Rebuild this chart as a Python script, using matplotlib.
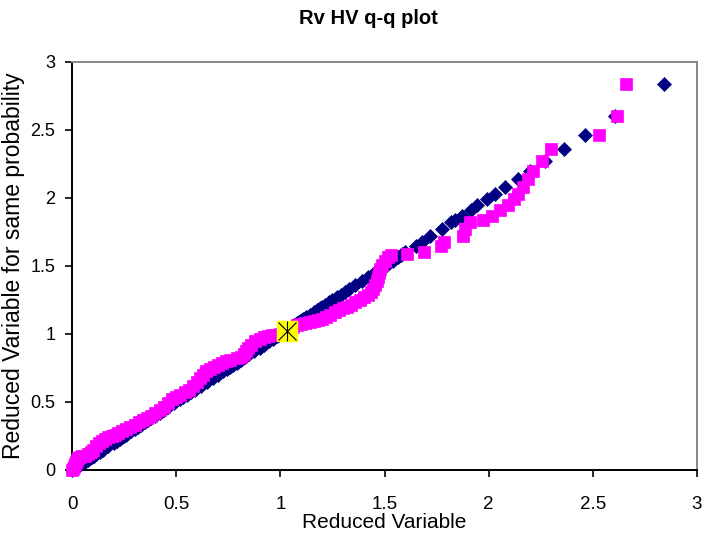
import matplotlib
matplotlib.use("Agg")
import matplotlib.pyplot as plt

# Magenta series: reduced variable (x) vs reduced variable for same probability (y)
x_vals = [0.000, 0.005, 0.010, 0.015, 0.020, 0.025, 0.030, 0.040, 0.050, 0.060,
          0.075, 0.090, 0.100, 0.115, 0.130, 0.145, 0.160, 0.175, 0.190, 0.205,
          0.220, 0.240, 0.260, 0.280, 0.300, 0.320, 0.340, 0.360, 0.380, 0.400,
          0.420, 0.440, 0.460, 0.480, 0.500, 0.520, 0.540, 0.560, 0.580, 0.600,
          0.615, 0.630, 0.645, 0.660, 0.680, 0.700, 0.720, 0.740, 0.760, 0.790,
          0.810, 0.825, 0.835, 0.845, 0.860, 0.880, 0.900, 0.920, 0.940, 0.960,
          0.980, 1.000, 1.060, 1.080, 1.100, 1.120, 1.140, 1.160, 1.180, 1.200,
          1.220, 1.240, 1.260, 1.280, 1.300, 1.320, 1.340, 1.360, 1.380, 1.400,
          1.420, 1.435, 1.445, 1.455, 1.465, 1.470, 1.475, 1.480, 1.490, 1.500,
          1.515, 1.530, 1.610, 1.690, 1.770, 1.785, 1.875, 1.885, 1.910, 1.975,
          2.015, 2.055, 2.095, 2.120, 2.140, 2.165, 2.190, 2.215, 2.255, 2.300,
          2.530, 2.615, 2.660]
y_vals = [0.000, 0.010, 0.025, 0.045, 0.060, 0.075, 0.085, 0.095, 0.100, 0.105,
          0.115, 0.135, 0.150, 0.175, 0.200, 0.215, 0.230, 0.240, 0.250, 0.260,
          0.270, 0.285, 0.300, 0.315, 0.330, 0.350, 0.365, 0.380, 0.400, 0.420,
          0.440, 0.460, 0.490, 0.520, 0.535, 0.550, 0.570, 0.590, 0.620, 0.650,
          0.675, 0.700, 0.725, 0.745, 0.760, 0.775, 0.790, 0.800, 0.810, 0.820,
          0.830, 0.850, 0.875, 0.900, 0.920, 0.945, 0.965, 0.975, 0.985, 0.990,
          0.995, 1.000, 1.050, 1.065, 1.075, 1.080, 1.090, 1.095, 1.105, 1.110,
          1.125, 1.140, 1.160, 1.175, 1.190, 1.200, 1.215, 1.235, 1.250, 1.270,
          1.290, 1.310, 1.330, 1.360, 1.390, 1.420, 1.450, 1.480, 1.510, 1.540,
          1.565, 1.580, 1.585, 1.600, 1.650, 1.680, 1.720, 1.775, 1.820, 1.840,
          1.870, 1.915, 1.945, 1.990, 2.030, 2.080, 2.140, 2.200, 2.270, 2.360,
          2.460, 2.605, 2.840]

# Highlighted point
mark_x = [1.03]
mark_y = [1.02]

x_ticks = [0, 0.5, 1, 1.5, 2, 2.5, 3]
y_ticks = [0, 0.5, 1, 1.5, 2, 2.5, 3]
tick_labels = ["0", "0.5", "1", "1.5", "2", "2.5", "3"]

narrow = ["Liberation Sans Narrow", "Liberation Sans", "DejaVu Sans"]
regular = ["Liberation Sans", "DejaVu Sans"]

fig = plt.figure(figsize=(7.08, 5.38), dpi=100)
ax = fig.add_axes([0.1017, 0.1264, 0.8828, 0.7584])

# reference series (y vs y) in navy diamonds
ax.plot(y_vals, y_vals, linestyle="none", marker="D", markersize=7,
        color="#000080", markeredgecolor="#000080", markeredgewidth=0.5,
        zorder=3, clip_on=False)
# magenta squares
ax.plot(x_vals, y_vals, linestyle="none", marker="s", markersize=9,
        color="#FF00FF", markeredgecolor="#FF00FF", markeredgewidth=0.5,
        zorder=4, clip_on=False)
# yellow marked point
ax.plot(mark_x, mark_y, linestyle="none", marker="s", markersize=14,
        color="#FFFF00", markeredgecolor="#FFFF00", zorder=5)
ax.plot(mark_x, mark_y, linestyle="none", marker="x", markersize=13,
        color="#000000", markeredgewidth=0.8, zorder=6)
ax.plot(mark_x, mark_y, linestyle="none", marker="|", markersize=14,
        color="#000000", markeredgewidth=0.8, zorder=6)

ax.set_xlim(0, 3)
ax.set_ylim(0, 3)
ax.set_xticks(x_ticks)
ax.set_yticks(y_ticks)
ax.set_xticklabels(tick_labels, family=narrow, fontsize=13.5, fontstretch="condensed")
ax.set_yticklabels(tick_labels, family=narrow, fontsize=13, fontstretch="condensed")
ax.tick_params(axis="both", direction="out", length=5, width=1.2, color="black")
ax.tick_params(axis="x", pad=14)
ax.tick_params(axis="y", pad=7)

for side in ("left", "bottom"):
    ax.spines[side].set_color("black")
    ax.spines[side].set_linewidth(1.4)
for side in ("top", "right"):
    ax.spines[side].set_color("#888888")
    ax.spines[side].set_linewidth(1.4)

ax.set_xlabel("Reduced Variable", family=regular, fontsize=15, va="top")
ax.xaxis.set_label_coords(0.5, -0.106)
ax.set_ylabel("Reduced Variable for same probability", family=regular,
              fontsize=16.5)
ax.yaxis.set_label_coords(-0.075, 0.5)

fig.text(0.52, 0.965, "Rv HV q-q plot", family=narrow, fontsize=14.5,
         fontweight="bold", fontstretch="condensed", ha="center", va="center")

fig.savefig("out.png", dpi=100, facecolor="white")
